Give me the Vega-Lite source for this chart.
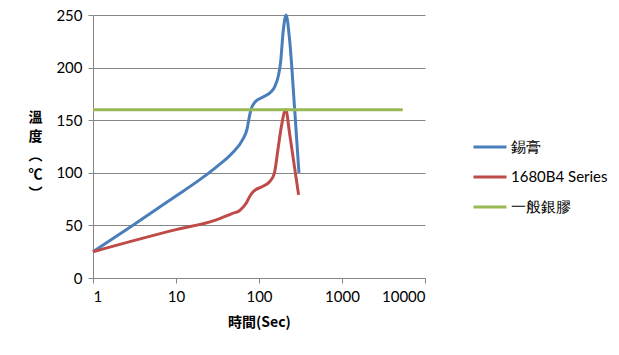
{
  "$schema": "https://vega.github.io/schema/vega-lite/v6.json",
  "autosize": "none",
  "width": 332,
  "height": 263,
  "padding": {"left": 93, "top": 15, "right": 194, "bottom": 77},
  "background": "white",
  "config": {
    "view": {"stroke": null},
    "font": "Lato",
    "axis": {"labelFont": "Lato", "titleFont": "Noto Sans CJK TC", "labelColor": "#000", "titleColor": "#000"}
  },
  "data": {
    "values": [
      {"s": "錫膏", "t": 1, "v": 25},
      {"s": "錫膏", "t": 3, "v": 50},
      {"s": "錫膏", "t": 10, "v": 78},
      {"s": "錫膏", "t": 19, "v": 93},
      {"s": "錫膏", "t": 30, "v": 105},
      {"s": "錫膏", "t": 48, "v": 119},
      {"s": "錫膏", "t": 63, "v": 131},
      {"s": "錫膏", "t": 72, "v": 142},
      {"s": "錫膏", "t": 76, "v": 152},
      {"s": "錫膏", "t": 80, "v": 160},
      {"s": "錫膏", "t": 89, "v": 167},
      {"s": "錫膏", "t": 112, "v": 172},
      {"s": "錫膏", "t": 140, "v": 177},
      {"s": "錫膏", "t": 155, "v": 182},
      {"s": "錫膏", "t": 172, "v": 193},
      {"s": "錫膏", "t": 182, "v": 205},
      {"s": "錫膏", "t": 196, "v": 235},
      {"s": "錫膏", "t": 212, "v": 250},
      {"s": "錫膏", "t": 234, "v": 226},
      {"s": "錫膏", "t": 269, "v": 160},
      {"s": "錫膏", "t": 303, "v": 100},
      {"s": "1680B4 Series", "t": 1, "v": 25},
      {"s": "1680B4 Series", "t": 10, "v": 46},
      {"s": "1680B4 Series", "t": 30, "v": 55},
      {"s": "1680B4 Series", "t": 48, "v": 61.5},
      {"s": "1680B4 Series", "t": 58, "v": 64},
      {"s": "1680B4 Series", "t": 70, "v": 71},
      {"s": "1680B4 Series", "t": 78, "v": 78},
      {"s": "1680B4 Series", "t": 85, "v": 82},
      {"s": "1680B4 Series", "t": 110, "v": 87},
      {"s": "1680B4 Series", "t": 134, "v": 91.5},
      {"s": "1680B4 Series", "t": 153, "v": 99.5},
      {"s": "1680B4 Series", "t": 169, "v": 122},
      {"s": "1680B4 Series", "t": 186, "v": 144},
      {"s": "1680B4 Series", "t": 210, "v": 160},
      {"s": "1680B4 Series", "t": 234, "v": 137},
      {"s": "1680B4 Series", "t": 300, "v": 79},
      {"s": "一般銀膠", "t": 1, "v": 160},
      {"s": "一般銀膠", "t": 5400, "v": 160}
    ]
  },
  "mark": {"type": "line", "strokeWidth": 3, "interpolate": "monotone"},
  "encoding": {
    "x": {
      "field": "t", "type": "quantitative",
      "scale": {"type": "log", "domain": [1, 10000], "nice": false},
      "axis": {
        "values": [1, 10, 100, 1000, 10000], "format": ".0f",
        "grid": false, "domainColor": "#868686", "tickColor": "#868686", "tickSize": 5,
        "labelFontSize": 15, "labelPadding": 6,
        "title": "時間(Sec)", "titleFontSize": 14, "titleFontWeight": "bold", "titlePadding": 11
      }
    },
    "y": {
      "field": "v", "type": "quantitative",
      "scale": {"domain": [0, 250], "nice": false},
      "axis": {
        "values": [0, 50, 100, 150, 200, 250],
        "grid": true, "gridColor": "#868686", "gridWidth": 1,
        "domainColor": "#868686", "tickColor": "#868686", "tickSize": 5,
        "labelFontSize": 15, "labelPadding": 6,
        "title": ["溫", "度", "︵", "℃", "︶"], "titleFontSize": 14, "titleFontWeight": "bold",
        "titleAngle": 0, "titleAlign": "center", "titleBaseline": "top",
        "titleX": -58, "titleY": 95, "titleLineHeight": 19
      }
    },
    "color": {
      "field": "s", "type": "nominal",
      "scale": {"domain": ["錫膏", "1680B4 Series", "一般銀膠"], "range": ["#4A7EBB", "#BE4B48", "#98B954"]},
      "legend": {
        "title": null, "orient": "none", "legendX": 379, "legendY": 114,
        "symbolType": "stroke", "symbolSize": 1089, "symbolStrokeWidth": 3,
        "labelFontSize": 15, "labelFont": "Lato", "labelColor": "#000", "labelOffset": 3,
        "rowPadding": 4
      }
    }
  }
}
